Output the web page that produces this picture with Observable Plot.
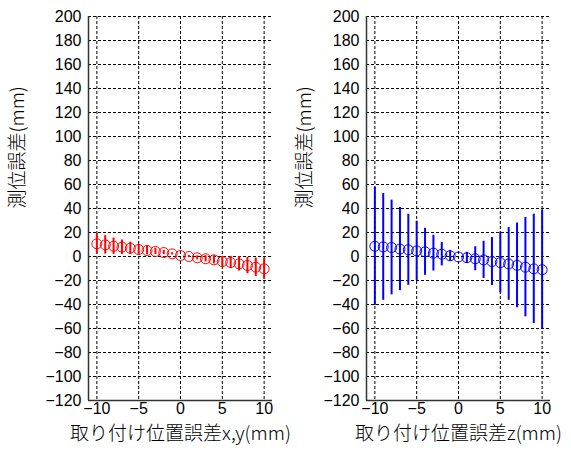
<!DOCTYPE html>
<html><head><meta charset="utf-8">
<script src="https://cdn.jsdelivr.net/npm/d3@7"></script>
<script src="https://cdn.jsdelivr.net/npm/@observablehq/plot@0.6"></script>
<style>
html,body{margin:0;padding:0;background:#fff;}
#wrap{position:relative;width:571px;height:457px;overflow:hidden;}
#wrap svg{position:absolute;top:0;}
</style></head><body><div id="wrap"></div>
<script>
const xValues = [-10,-9,-8,-7,-6,-5,-4,-3,-2,-1,0,1,2,3,4,5,6,7,8,9,10];
const redMean = [10.6,9.7,8.6,7.8,6.9,5.8,5.0,4.2,3.3,2.2,0.8,0.0,-1.1,-1.9,-2.8,-4.2,-5.0,-6.1,-7.5,-8.9,-10.3];
const redErr = [8.5,7.7,6.8,6.0,5.1,4.3,3.4,2.6,1.7,0.9,0.0,0.9,1.7,2.6,3.4,4.3,5.1,6.0,6.8,7.7,8.5];
const blueMean = [8.5,8.0,7.5,6.2,5.6,4.7,3.9,2.8,1.9,0.6,-0.4,-1.0,-1.9,-2.8,-4.2,-5.1,-6.2,-7.4,-8.9,-10.3,-11.0];
const blueErr = [49.3,44.5,39.5,34.7,29.6,24.7,19.6,14.9,9.7,4.5,0.0,4.5,10.0,15.5,20.0,25.3,30.3,35.3,41.4,45.6,49.9];
const xTicks = [-10,-5,0,5,10];
const yTicks = [-120,-100,-80,-60,-40,-20,0,20,40,60,80,100,120,140,160,180,200];
const xDomain = [-11, 11];
const yDomain = [-120, 200];
const xLabelLeft = "取り付け位置誤差x,y(mm)";
const xLabelRight = "取り付け位置誤差z(mm)";
const yLabel = "測位誤差(mm)";
const tickFont = "'Liberation Sans', Arial, sans-serif";

function panel({mean, err, color, xLabel, left, width, marginLeft, marginRight, yLabelDx}) {
  const data = xValues.map((x, i) => ({x, y: mean[i], lo: mean[i] - err[i], hi: mean[i] + err[i]}));
  const chart = Plot.plot({
    width, height: 457, marginLeft, marginRight, marginTop: 16, marginBottom: 57,
    style: {fontFamily: "'Noto Sans CJK JP', sans-serif", fontSize: "16px", fontWeight: 300, color: "#000", background: "transparent", overflow: "visible"},
    x: {domain: xDomain},
    y: {domain: yDomain},
    marks: [
      Plot.gridX(xTicks, {stroke: "#000", strokeOpacity: 1, strokeDasharray: "3,2"}),
      Plot.gridY(yTicks, {stroke: "#000", strokeOpacity: 1, strokeDasharray: "3,2"}),
      Plot.ruleX([xDomain[0]], {stroke: "#333", strokeWidth: 1.5}),
      Plot.ruleY([yDomain[0]], {stroke: "#333", strokeWidth: 1.5}),
      Plot.axisX(xTicks, {tickSize: 0, tickPadding: 2, label: null, fontSize: 16, fontFamily: tickFont, fontWeight: 400}),
      Plot.axisY(yTicks, {tickSize: 0, tickPadding: 7, label: null, fontSize: 16, fontFamily: tickFont, fontWeight: 400}),
      Plot.ruleX(data, {x: "x", y1: "lo", y2: "hi", stroke: color, strokeWidth: 2}),
      Plot.dot(data, {x: "x", y: "y", r: 5, stroke: color, strokeWidth: 1, fill: "none"}),
      Plot.text([xLabel], {frameAnchor: "bottom", dy: 39, fontSize: 19}),
      Plot.text([yLabel], {frameAnchor: "left", dx: yLabelDx, rotate: -90, fontSize: 19})
    ]
  });
  chart.style.left = left + "px";
  document.getElementById("wrap").append(chart);
}

panel({mean: redMean, err: redErr, color: "#ff0000", xLabel: xLabelLeft, left: 0, width: 286, marginLeft: 88, marginRight: 14, yLabelDx: -71});
panel({mean: blueMean, err: blueErr, color: "#0000ff", xLabel: xLabelRight, left: 286, width: 285, marginLeft: 80, marginRight: 21, yLabelDx: -62});
</script></body></html>
